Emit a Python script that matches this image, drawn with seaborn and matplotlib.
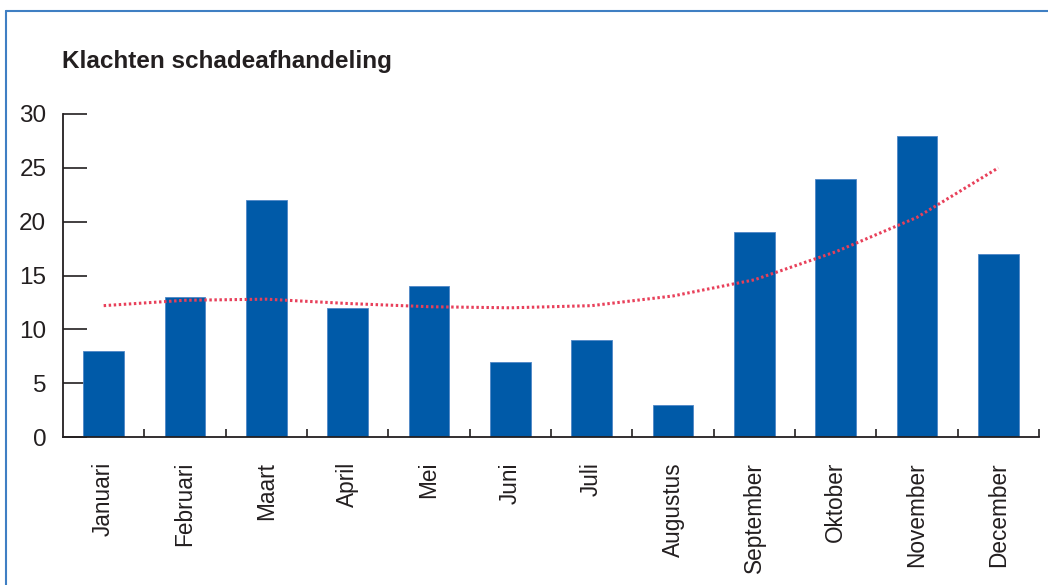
import matplotlib
matplotlib.use("Agg")
import matplotlib.pyplot as plt
from matplotlib.lines import Line2D
from matplotlib.ticker import FixedLocator
import seaborn as sns
import pandas as pd

months = ["Januari", "Februari", "Maart", "April", "Mei", "Juni", "Juli",
          "Augustus", "September", "Oktober", "November", "December"]
complaints = [8, 13, 22, 12, 14, 7, 9, 3, 19, 24, 28, 17]
trend = [12.2, 12.7, 12.8, 12.4, 12.1, 12.0, 12.2, 13.1, 14.6, 17.2, 20.4, 25.0]
yticks = [0, 5, 10, 15, 20, 25, 30]
title = "Klachten schadeafhandeling"

sns.set_theme(style="white")
plt.rcParams['font.family'] = ['Liberation Sans', 'DejaVu Sans']

fig = plt.figure(figsize=(10.48, 5.85), dpi=100)
ax = fig.add_axes([63/1048, 1-437/585, (1039-63)/1048, (437-114)/585])

df = pd.DataFrame({"month": months, "value": complaints})
sns.barplot(data=df, x="month", y="value", order=months, color="#005AA8",
            width=0.5, saturation=1, edgecolor="#4f86c6", linewidth=0.6, ax=ax)

ax.plot(range(len(months)), trend, color="#e8405a", linewidth=2.2,
        linestyle=(0, (0.8, 0.85)), zorder=5)

ax.set_ylim(0, 30)
ax.set_xlim(-0.5, len(months) - 0.5)
ax.set_xlabel("")
ax.set_ylabel("")
ax.set_yticks(yticks)
ax.set_yticklabels([str(t) for t in yticks])
ax.xaxis.set_minor_locator(FixedLocator([i + 0.5 for i in range(len(months))]))

txtcol = "#231f20"
for s in ["top", "right"]:
    ax.spines[s].set_visible(False)
for s in ["left", "bottom"]:
    ax.spines[s].set_color(txtcol)
    ax.spines[s].set_linewidth(1.3)

ax.tick_params(axis="y", direction="in", length=17, width=1.2, color=txtcol,
               labelsize=17.5, labelcolor=txtcol, pad=12, left=True)
ax.tick_params(axis="x", which="major", length=0, labelsize=16.3,
               labelcolor=txtcol, pad=18, labelrotation=90, bottom=True)
ax.tick_params(axis="x", which="minor", direction="in", length=6, width=1.2,
               color=txtcol, bottom=True)
for lab in ax.get_xticklabels():
    lab.set_va("top")
    lab.set_ha("center")

fig.text(62/1048, 1-68/585, title, fontsize=17.5, fontweight="bold",
         family=['Liberation Sans Narrow', 'Liberation Sans', 'DejaVu Sans'],
         color=txtcol, va="baseline", ha="left")

framecol = "#3f7fc3"
fig.add_artist(Line2D([6/1048, 1], [1-11/585, 1-11/585], color=framecol,
                      linewidth=1.5, transform=fig.transFigure))
fig.add_artist(Line2D([6/1048, 6/1048], [0, 1-11/585], color=framecol,
                      linewidth=1.5, transform=fig.transFigure))

fig.savefig("out.png", dpi=100)
